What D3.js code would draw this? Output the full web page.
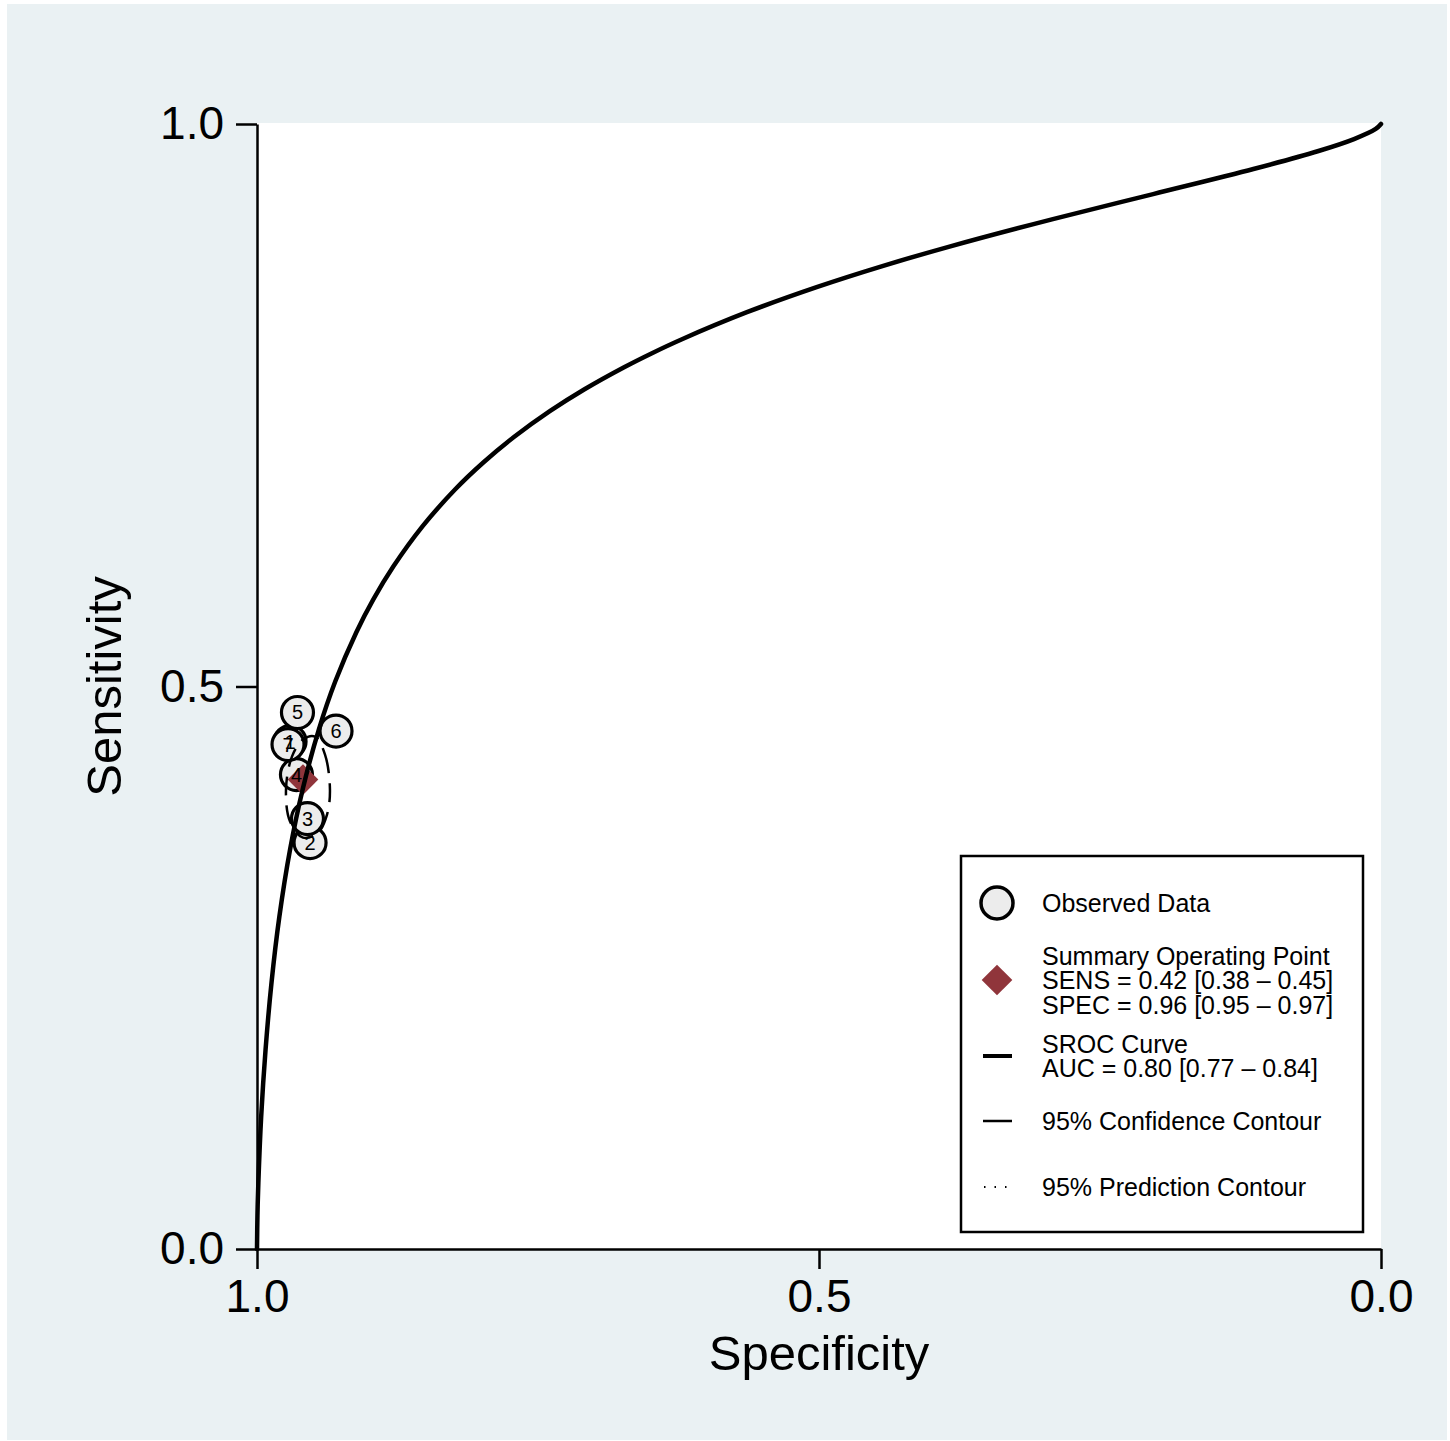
<!DOCTYPE html>
<html>
<head>
<meta charset="utf-8">
<script src="https://cdn.jsdelivr.net/npm/d3@7"></script>
<style>
	body { margin: 0; background: #ffffff; }
	text { font-family: 'Liberation Sans', Arial, sans-serif; }
</style>
</head>
<body>
<script>
'use strict';

// Study level points (label, specificity, sensitivity)
const studyIds  = [1, 2, 3, 4, 5, 6, 7];
const studySpec = [0.9706, 0.9528, 0.9551, 0.9649, 0.9640, 0.9297, 0.9724];
const studySens = [0.4511, 0.3612, 0.3826, 0.4217, 0.4769, 0.4604, 0.4484];

// Summary operating point
const summarySpec = 0.9591;
const summarySens = 0.4173;

// SROC curve
const srocSpec = [1.0000, 0.9996, 0.9988, 0.9963, 0.9924, 0.9871, 0.9801, 0.9706, 0.9594, 0.9450, 0.9304, 0.9117, 0.8965, 0.8786, 0.8528, 0.8236, 0.7984, 0.7717, 0.7395, 0.7086, 0.6734, 0.6486, 0.6219, 0.5641, 0.5021, 0.4436, 0.3855, 0.2919, 0.2027, 0.1135, 0.0556, 0.0240, 0.0047, 0.0000];
const srocSens = [0.0000, 0.0300, 0.0587, 0.1174, 0.1770, 0.2367, 0.2954, 0.3550, 0.4084, 0.4617, 0.5044, 0.5480, 0.5774, 0.6068, 0.6423, 0.6753, 0.6993, 0.7215, 0.7447, 0.7642, 0.7838, 0.7963, 0.8087, 0.8327, 0.8550, 0.8737, 0.8906, 0.9155, 0.9377, 0.9600, 0.9760, 0.9866, 0.9956, 1.0000];

// 95% confidence contour
const confSpec = [0.9484, 0.9395, 0.9351, 0.9377, 0.9457, 0.9591, 0.9706, 0.9742, 0.9689, 0.9591];
const confSens = [0.4555, 0.4395, 0.4084, 0.3861, 0.3701, 0.3657, 0.3799, 0.4084, 0.4377, 0.4528];

const xTicks = [1.0, 0.5, 0.0];
const yTicks = [0.0, 0.5, 1.0];

const legendObserved = ['Observed Data'];
const legendSummary  = ['Summary Operating Point', 'SENS = 0.42 [0.38 \u2013 0.45]', 'SPEC = 0.96 [0.95 \u2013 0.97]'];
const legendSroc     = ['SROC Curve', 'AUC = 0.80 [0.77 \u2013 0.84]'];
const legendConf     = ['95% Confidence Contour'];
const legendPred     = ['95% Prediction Contour'];

const DIMENSIONS = {
	'canvas' : { 'width': 1450, 'height': 1441 },
	'plot'   : { 'left': 257, 'top': 124, 'right': 1381, 'bottom': 1249 }
};
const MAROON = '#90353b';

let svg = d3.select('body').append('svg')
	.attr('width', DIMENSIONS.canvas.width)
	.attr('height', DIMENSIONS.canvas.height);

// Graph region background
svg.append('rect')
	.attr('x', 7).attr('y', 4)
	.attr('width', 1440).attr('height', 1436)
	.attr('fill', '#eaf1f3');

let xScale = d3.scaleLinear()
	.domain([1, 0])
	.range([DIMENSIONS.plot.left, DIMENSIONS.plot.right]);
let yScale = d3.scaleLinear()
	.domain([0, 1])
	.range([DIMENSIONS.plot.bottom, DIMENSIONS.plot.top]);

// Plot region
svg.append('rect')
	.attr('x', DIMENSIONS.plot.left).attr('y', DIMENSIONS.plot.top - 1)
	.attr('width', DIMENSIONS.plot.right - DIMENSIONS.plot.left)
	.attr('height', DIMENSIONS.plot.bottom - DIMENSIONS.plot.top + 1)
	.attr('fill', '#ffffff');

// Axes
let xAxis = d3.axisBottom(xScale).tickValues(xTicks).tickFormat(d3.format('.1f')).tickSize(20).tickPadding(10).tickSizeOuter(0);
let yAxis = d3.axisLeft(yScale).tickValues(yTicks).tickFormat(d3.format('.1f')).tickSize(21).tickPadding(12).tickSizeOuter(0);

let gx = svg.append('g')
	.attr('transform', 'translate(0,' + DIMENSIONS.plot.bottom + ')')
	.call(xAxis);
let gy = svg.append('g')
	.attr('transform', 'translate(' + DIMENSIONS.plot.left + ',0)')
	.call(yAxis);

[gx, gy].forEach((g) => {
	g.select('.domain').attr('stroke', '#000').attr('stroke-width', 2.5);
	g.selectAll('.tick line').attr('stroke', '#000').attr('stroke-width', 2.5);
	g.selectAll('.tick text')
		.attr('fill', '#000')
		.style('font-family', "'Liberation Sans', Arial, sans-serif")
		.style('font-size', '46px');
});

// Axis titles
svg.append('text')
	.attr('x', xScale(0.5)).attr('y', 1370)
	.attr('text-anchor', 'middle')
	.style('font-size', '49px')
	.text('Specificity');
svg.append('text')
	.attr('transform', 'translate(121,' + yScale(0.5) + ') rotate(-90)')
	.attr('text-anchor', 'middle')
	.style('font-size', '49px')
	.text('Sensitivity');

let plot = svg.append('g').attr('class', 'plot');

let studies = studyIds.map((id, i) => ({ 'id': id, 'spec': studySpec[i], 'sens': studySens[i] }));

// Observed data circles
plot.selectAll('circle.study')
	.data(studies)
	.enter()
	.append('circle')
	.attr('class', 'study')
	.attr('cx', (d) => xScale(d.spec))
	.attr('cy', (d) => yScale(d.sens))
	.attr('r', 16)
	.attr('fill', '#ececec')
	.attr('stroke', '#000')
	.attr('stroke-width', 3.2);

let diamond = d3.symbol().type(d3.symbolDiamond2).size(600);

// Summary point
plot.append('path')
	.attr('d', diamond)
	.attr('transform', 'translate(' + xScale(summarySpec) + ',' + yScale(summarySens) + ')')
	.attr('fill', MAROON);

// Study labels
plot.selectAll('text.label')
	.data(studies)
	.enter()
	.append('text')
	.attr('class', 'label')
	.attr('x', (d) => xScale(d.spec))
	.attr('y', (d) => yScale(d.sens) + 7)
	.attr('text-anchor', 'middle')
	.style('font-size', '20px')
	.text((d) => d.id);

// Confidence contour
let contour = confSpec.map((s, i) => [xScale(s), yScale(confSens[i])]);
plot.append('path')
	.attr('d', d3.line().curve(d3.curveCatmullRomClosed)(contour))
	.attr('fill', 'none')
	.attr('stroke', '#000')
	.attr('stroke-width', 2.5)
	.attr('stroke-dasharray', '19,10');

// SROC curve
let sroc = srocSpec.map((s, i) => [xScale(s), yScale(srocSens[i])]);
plot.append('path')
	.attr('d', d3.line().curve(d3.curveCatmullRom.alpha(0.5))(sroc))
	.attr('fill', 'none')
	.attr('stroke', '#000')
	.attr('stroke-width', 4.5)
	.attr('stroke-linecap', 'round');

// Legend
let legend = svg.append('g').attr('class', 'legend');
legend.append('rect')
	.attr('x', 961).attr('y', 856)
	.attr('width', 402).attr('height', 376)
	.attr('fill', '#ffffff')
	.attr('stroke', '#000')
	.attr('stroke-width', 2.5);

const LEG_SYM_X = 997;
const LEG_TEXT_X = 1042;
const LEG_LINE_H = 24.5;

function legendText(lines, centerY) {
	let top = centerY - (lines.length - 1) * LEG_LINE_H / 2;
	lines.forEach((l, i) => {
		legend.append('text')
			.attr('x', LEG_TEXT_X)
			.attr('y', top + i * LEG_LINE_H + 9)
			.style('font-size', '25px')
			.text(l);
	});
}

legend.append('circle')
	.attr('cx', LEG_SYM_X).attr('cy', 903).attr('r', 16)
	.attr('fill', '#ececec').attr('stroke', '#000').attr('stroke-width', 3.5);
legendText(legendObserved, 903);

legend.append('path')
	.attr('d', diamond)
	.attr('transform', 'translate(' + LEG_SYM_X + ',980)')
	.attr('fill', MAROON);
legendText(legendSummary, 980);

legend.append('line')
	.attr('x1', 983).attr('x2', 1012).attr('y1', 1056).attr('y2', 1056)
	.attr('stroke', '#000').attr('stroke-width', 4);
legendText(legendSroc, 1056);

legend.append('line')
	.attr('x1', 983).attr('x2', 1012).attr('y1', 1121).attr('y2', 1121)
	.attr('stroke', '#000').attr('stroke-width', 2.5);
legendText(legendConf, 1121);

legend.append('line')
	.attr('x1', 984).attr('x2', 1012).attr('y1', 1187).attr('y2', 1187)
	.attr('stroke', '#000').attr('stroke-width', 2)
	.attr('stroke-dasharray', '1.5,9');
legendText(legendPred, 1187);
</script>
</body>
</html>
